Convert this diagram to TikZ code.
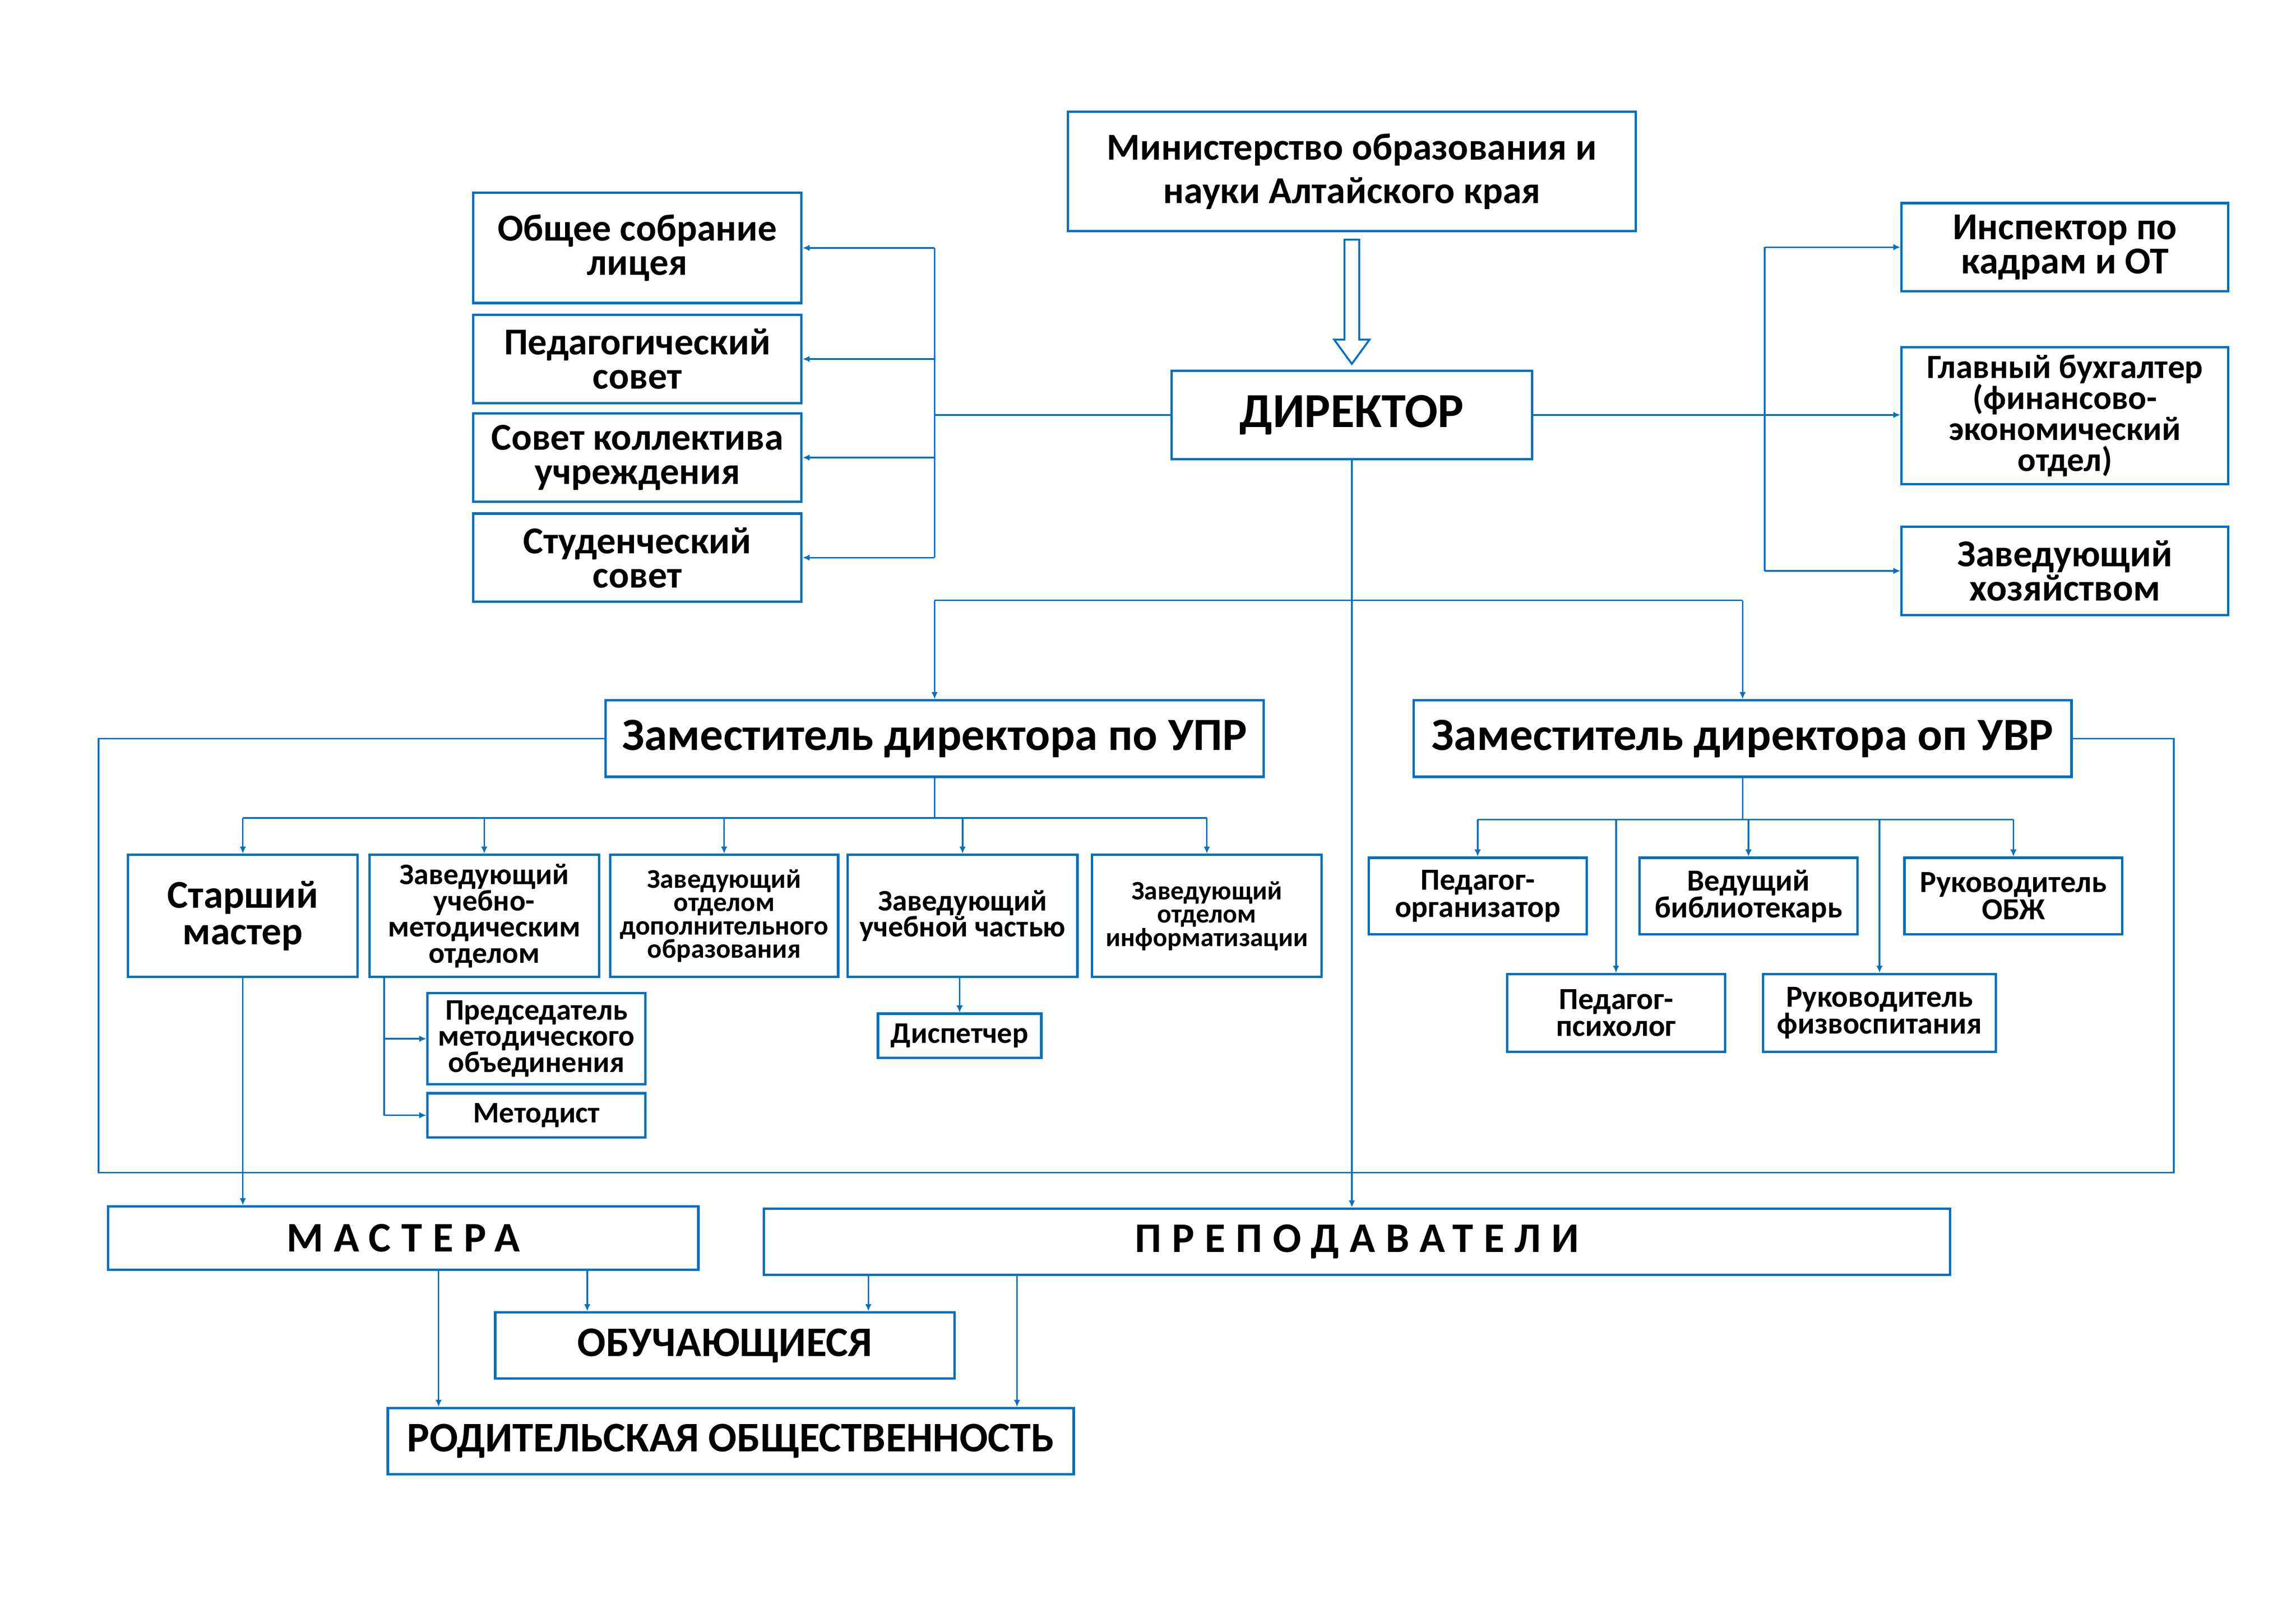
\documentclass[tikz,border=0pt]{standalone}
\usepackage{fontspec}
\setmainfont{Carlito}
\newfontfamily\spacedfont{Carlito}[LetterSpace=25]
\usetikzlibrary{arrows.meta,calc}
\definecolor{orgblue}{RGB}{0,112,192}
\newdimen\pxu \pxu=0.019038cm
\newcommand{\fsz}[2]{\fontsize{#1}{#2}\selectfont}

\begin{document}
\begin{tikzpicture}[x=0.019038cm,y=-0.019038cm,
    box/.style={draw=orgblue,line width=0.9pt,align=center,inner sep=1pt},
    wh/.style 2 args={minimum width=#1\pxu,minimum height=#2\pxu},
    sz/.style 2 args={font=\bfseries\fsz{#1}{#2}},
    link/.style={orgblue,line width=0.6pt},
    arr/.style={link,-{Latex[length=2.6pt,width=2.4pt]}},
    blockarr/.style={draw=orgblue,line width=0.7pt,fill=white}]
  \useasboundingbox (0,0) rectangle (1560,1103);
  % top
  \node[box,wh={386}{81},sz={14}{16}] (min) at (918.5,116.5) {Министерство образования и\\науки Алтайского края};
  \node[box,wh={245}{60},sz={18}{20}] (dir) at (918.5,282) {\raisebox{-1pt}{ДИРЕКТОР}};
  \draw[blockarr] ($(min.south)+(-5,5)$) -- ++(0,68) -- ++(-7,0) -- ++(12,16.5) -- ++(12,-16.5) -- ++(-7,0) -- ++(0,-68) -- cycle;
  % councils
  \node[box,wh={223}{75},sz={14}{12.6}] (gen) at (433,168.5) {Общее собрание\\лицея};
  \node[box,wh={223}{60},sz={14}{12.6}] (ped) at (433,244) {Педагогический\\совет};
  \node[box,wh={223}{60},sz={14}{12.6}] (kol) at (433,311) {Совет коллектива\\учреждения};
  \node[box,wh={223}{60},sz={14}{12.6}] (stud) at (433,379) {Студенческий\\совет};
  \coordinate (lb) at (635,0);
  \draw[link] (lb |- gen.east) -- (lb |- stud.east);
  \draw[link] (dir.west) -- (lb |- dir.west);
  \foreach \n in {gen,ped,kol,stud}
    \draw[arr] (lb |- \n.east) -- (\n.east);
  % services
  \node[box,wh={222}{60},sz={14}{12.6}] (insp) at (1403,168) {Инспектор по\\кадрам и ОТ};
  \node[box,wh={222}{93},sz={12.5}{11.4}] (buh) at (1403,282.5) {Главный бухгалтер\\(финансово-\\экономический\\отдел)};
  \node[box,wh={222}{60},sz={14}{12.6}] (hoz) at (1403,388) {Заведующий\\хозяйством};
  \coordinate (rb) at (1199,0);
  \draw[link] (rb |- insp.west) -- (rb |- hoz.west);
  \draw[arr] (dir.east) -- (dir.east -| buh.west);
  \draw[arr] (rb |- insp.west) -- (insp.west);
  \draw[arr] (rb |- hoz.west) -- (hoz.west);
  % deputies
  \node[box,wh={447}{52},sz={17}{20}] (upr) at (635,502) {Заместитель директора по УПР};
  \node[box,wh={447}{52},sz={17}{20}] (uvr) at (1184,502) {Заместитель директора оп УВР};
  \coordinate (zb) at (0,408);
  \draw[link] (zb -| upr.north) -- (zb -| uvr.north);
  \draw[arr] (zb -| upr.north) -- (upr.north);
  \draw[arr] (zb -| uvr.north) -- (uvr.north);
  % UPR departments
  \node[box,wh={156}{83},sz={14.5}{13.4}] (stm) at (165,622.5) {Старший\\мастер};
  \node[box,wh={156}{83},sz={11}{9.7}] (umo) at (329,622.5) {Заведующий\\учебно-\\методическим\\отделом};
  \node[box,wh={155}{83},sz={10}{8.6}] (dop) at (492,622.5) {Заведующий\\отделом\\дополнительного\\образования};
  \node[box,wh={156}{83},sz={11}{9.6}] (uch) at (654,622.5) {Заведующий\\учебной частью};
  \node[box,wh={156}{83},sz={9.8}{8.6}] (inf) at (820,622.5) {Заведующий\\отделом\\информатизации};
  \node[box,wh={111}{30},sz={11}{9.8}] (disp) at (652,704) {Диспетчер};
  \node[box,wh={148}{62},sz={11}{9.6}] (pred) at (364.5,706) {Председатель\\методического\\объединения};
  \node[box,wh={148}{30},sz={11}{9.6}] (met) at (364.5,758) {Методист};
  \coordinate (ub) at (0,556);
  \draw[link] (upr.south) -- (upr.south |- ub);
  \draw[link] (ub -| stm.north) -- (ub -| inf.north);
  \foreach \n in {stm,umo,dop,uch,inf}
    \draw[arr] (ub -| \n.north) -- (\n.north);
  \draw[arr] (disp.north |- uch.south) -- (disp.north);
  \coordinate (ul) at (261,0);
  \draw[link] (ul |- umo.south) -- (ul |- met.west);
  \draw[arr] (ul |- pred.west) -- (pred.west);
  \draw[arr] (ul |- met.west) -- (met.west);
  % UVR departments
  \node[box,wh={148}{52},sz={11.3}{9.9}] (porg) at (1004,609) {Педагог-\\организатор};
  \node[box,wh={148}{52},sz={11.3}{9.9}] (bib) at (1188,609) {Ведущий\\библиотекарь};
  \node[box,wh={148}{52},sz={11.3}{9.9}] (obzh) at (1368,609) {Руководитель\\ОБЖ};
  \node[box,wh={148}{53},sz={11.3}{9.9}] (psy) at (1098,688.5) {Педагог-\\психолог};
  \node[box,wh={158}{53},sz={11.3}{9.9}] (fiz) at (1277,688.5) {Руководитель\\физвоспитания};
  \coordinate (vb) at (0,557);
  \draw[link] (uvr.south) -- (uvr.south |- vb);
  \draw[link] (vb -| porg.north) -- (vb -| obzh.north);
  \foreach \n in {porg,psy,bib,fiz,obzh}
    \draw[arr] (vb -| \n.north) -- (\n.north);
  % big frame
  \coordinate (lpl) at (67,797);
  \coordinate (lpr) at (1477,797);
  \draw[link] (upr.west) -| (lpl) -- (lpr) |- (uvr.east);
  % bottom
  \node[box,wh={401}{43},font=\spacedfont\bfseries\fsz{15.5}{18}] (mas) at (274,841.5) {МАСТЕРА};
  \node[box,wh={806}{45},font=\spacedfont\bfseries\fsz{15.5}{18}] (prep) at (922,844) {ПРЕПОДАВАТЕЛИ};
  \node[box,wh={312}{45},sz={15.5}{18}] (obuch) at (492.5,914.5) {ОБУЧАЮЩИЕСЯ};
  \node[box,wh={466}{45},sz={15.5}{18}] (rod) at (496.5,979.5) {РОДИТЕЛЬСКАЯ ОБЩЕСТВЕННОСТЬ};
  \draw[arr] (dir.south) -- (dir.south |- prep.north);
  \draw[arr] (stm.south) -- (stm.south |- mas.north);
  \path (399,0) coordinate (c1) (298,0) coordinate (c2) (590,0) coordinate (c3) (691,0) coordinate (c4);
  \draw[arr] (c1 |- mas.south) -- (c1 |- obuch.north);
  \draw[arr] (c2 |- mas.south) -- (c2 |- rod.north);
  \draw[arr] (c3 |- prep.south) -- (c3 |- obuch.north);
  \draw[arr] (c4 |- prep.south) -- (c4 |- rod.north);
\end{tikzpicture}
\end{document}
